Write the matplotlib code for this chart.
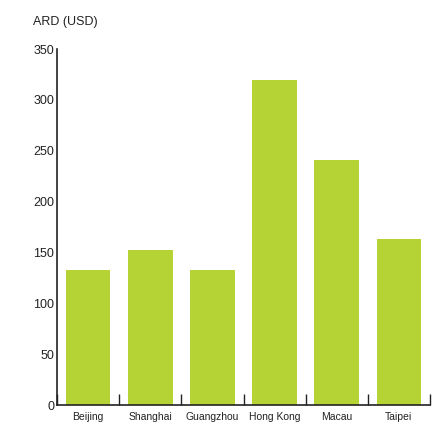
import matplotlib
matplotlib.use("Agg")
import matplotlib.pyplot as plt
import numpy as np

cities = ["Beijing", "Shanghai", "Guangzhou", "Hong Kong", "Macau", "Taipei"]
ard_usd = [133, 152, 133, 320, 241, 163]
y_ticks = [0, 50, 100, 150, 200, 250, 300, 350]

plt.rcParams['font.family'] = ['Liberation Sans', 'DejaVu Sans']

fig = plt.figure(figsize=(4.46, 4.23), dpi=100)
ax = fig.add_axes([57/446, 18/423, (430-57)/446, (405-49)/423])

x = np.arange(len(cities))
ax.bar(x, ard_usd, width=0.72, color="#b5d334", zorder=1)

ax.set_xlim(-0.5, len(cities) - 0.5)
ax.set_ylim(0, 350)
ax.set_yticks(y_ticks)
ax.set_xticks(x)
ax.set_xticklabels(cities, fontsize=7.5, color="#222222")
ax.set_xticks(np.arange(len(cities) + 1) - 0.5, minor=True)
ax.tick_params(axis='x', which='major', length=0, pad=5)
ax.tick_params(axis='x', which='minor', direction='in', length=8, width=1, color="#222222")
ax.tick_params(axis='y', length=0, pad=2, labelsize=9, labelcolor="#222222")

for s in ["top", "right"]:
    ax.spines[s].set_visible(False)
for s in ["left", "bottom"]:
    ax.spines[s].set_linewidth(1.2)
    ax.spines[s].set_color("#222222")
    ax.spines[s].set_zorder(3)

fig.text(33/446, 1 - 22/423, "ARD (USD)", fontsize=9, color="#222222", va="center", ha="left")

fig.savefig("out.png", dpi=100)
